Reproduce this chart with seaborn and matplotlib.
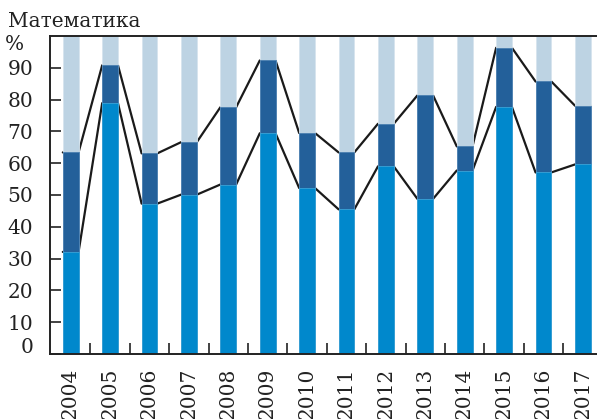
import numpy as np
import pandas as pd
import matplotlib
matplotlib.use("Agg")
import matplotlib.pyplot as plt
import matplotlib.transforms as mtransforms
import seaborn as sns

years = ["2004", "2005", "2006", "2007", "2008", "2009", "2010",
         "2011", "2012", "2013", "2014", "2015", "2016", "2017"]
lower = [32.1, 78.9, 47.3, 50.1, 53.3, 69.4, 52.2,
         45.5, 59.0, 48.8, 57.7, 77.7, 57.1, 59.6]
upper = [63.4, 90.8, 63.1, 66.6, 77.6, 92.3, 69.5,
         63.4, 72.4, 81.3, 65.3, 96.3, 85.7, 78.1]
total = [100] * len(years)

c_top = "#bdd3e3"
c_mid = "#23609a"
c_low = "#0088cc"

df = pd.DataFrame({"year": years, "lower": lower, "upper": upper, "total": total})

sns.set_style("ticks")
plt.rcParams["font.family"] = ["DejaVu Serif"]

fig = plt.figure(figsize=(5.97, 4.19), dpi=100)
ax = fig.add_axes([50 / 597, 1 - 354 / 419, 1 - 50 / 597, (354 - 36) / 419])

w = 0.4
# stacked by overlapping: full bar, then upper cumulative, then lower part
sns.barplot(data=df, x="year", y="total", color=c_top, width=w, saturation=1,
            edgecolor="#d6e4ee", linewidth=0.6, ax=ax, zorder=2)
sns.barplot(data=df, x="year", y="upper", color=c_mid, width=w, saturation=1,
            edgecolor="#4a7fb0", linewidth=0.6, ax=ax, zorder=2)
sns.barplot(data=df, x="year", y="lower", color=c_low, width=w, saturation=1,
            edgecolor="#3aa3d8", linewidth=0.6, ax=ax, zorder=2)

# connecting lines between bar edges
idx = np.arange(len(years))
xs = np.column_stack([idx - w / 2, idx + w / 2]).ravel()
ax.plot(xs, np.repeat(lower, 2), color="#1a1a1a", lw=1.6, zorder=1)
ax.plot(xs, np.repeat(upper, 2), color="#1a1a1a", lw=1.6, zorder=1)

ax.set_xlim(-0.525, len(years) - 1 + 0.36)
ax.set_ylim(0, 100)
ax.set_xlabel("")
ax.set_ylabel("")

fs = 14.5
ax.set_yticks(range(0, 100, 10))
ax.set_yticklabels([str(v) for v in range(0, 100, 10)], fontsize=fs)
ax.tick_params(axis="y", direction="in", length=8, width=1.2, pad=12, colors="#222222")
ax.set_xticks(idx)
ax.set_xticklabels(years, rotation=90, fontsize=fs, va="top")
ax.tick_params(axis="x", which="major", length=0, pad=10, colors="#222222")
ax.set_xticks(idx[:-1] + 0.5, minor=True)
ax.tick_params(axis="x", which="minor", direction="in", length=8, width=1.2, color="#222222")

# raise the "0" label a bit, as in the original
lbl0 = ax.get_yticklabels()[0]
lbl0.set_transform(lbl0.get_transform() + mtransforms.ScaledTranslation(0, 6 / 72, fig.dpi_scale_trans))

for s in ["left", "bottom", "top"]:
    ax.spines[s].set_linewidth(1.4)
    ax.spines[s].set_color("#222222")
ax.spines["right"].set_visible(False)

ax.text(-0.02 - 15 / 547, 97.3, "%", transform=ax.get_yaxis_transform(),
        ha="right", va="center", fontsize=fs, color="#222222")
fig.text(8 / 597, 1 - 27 / 419, "Математика", fontsize=14.5, color="#222222", va="baseline")

fig.savefig("out.png", dpi=100)
